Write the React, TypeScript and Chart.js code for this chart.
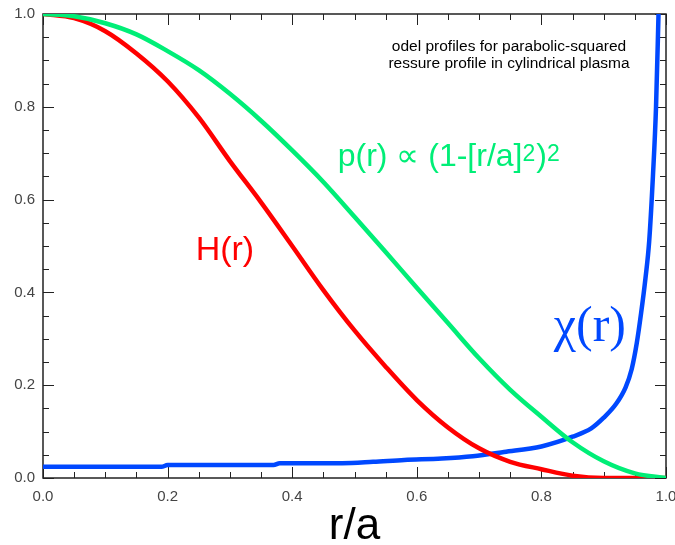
import { useEffect, useRef } from "react";
import { Chart, registerables } from "chart.js";

Chart.register(...registerables);

// ---- data ----
const radius = [0, 0.05, 0.1, 0.15, 0.2, 0.25, 0.3, 0.35, 0.4, 0.45, 0.5, 0.55, 0.6, 0.65, 0.7, 0.75, 0.8, 0.85, 0.9, 0.95, 1.0];
const pressure = [1.0, 0.995, 0.98, 0.956, 0.92, 0.879, 0.828, 0.77, 0.706, 0.638, 0.563, 0.487, 0.41, 0.334, 0.258, 0.19, 0.132, 0.077, 0.036, 0.01, 0.0];
const hProfile = [1.0, 0.991, 0.963, 0.915, 0.855, 0.777, 0.683, 0.594, 0.5, 0.405, 0.318, 0.24, 0.168, 0.109, 0.064, 0.035, 0.019, 0.005, 0.0, 0.0, 0.0];
const chiRadius = [0, 0.19, 0.2, 0.37, 0.38, 0.48, 0.53, 0.58, 0.64, 0.69, 0.74, 0.8, 0.85, 0.88, 0.9, 0.92, 0.935, 0.945, 0.953, 0.96, 0.967, 0.973, 0.979, 0.984, 0.988];
const chiProfile = [0.024, 0.024, 0.028, 0.028, 0.032, 0.032, 0.035, 0.039, 0.042, 0.047, 0.056, 0.068, 0.089, 0.107, 0.13, 0.16, 0.195, 0.235, 0.29, 0.355, 0.43, 0.51, 0.65, 0.8, 1.0];

const xTicks = [0, 0.2, 0.4, 0.6, 0.8, 1.0];
const yTicks = [0, 0.2, 0.4, 0.6, 0.8, 1.0];
const minorTicks = [0, 0.05, 0.1, 0.15, 0.2, 0.25, 0.3, 0.35, 0.4, 0.45, 0.5, 0.55, 0.6, 0.65, 0.7, 0.75, 0.8, 0.85, 0.9, 0.95, 1.0];

const xTitle = "r/a";
const noteLines = ["odel profiles for parabolic-squared", "ressure profile in cylindrical plasma"];
const pLabelParts = ["p(r) \u221D (1-[r/a]", "2", ")", "2"];
const hLabel = "H(r)";
const chiLabel = "\u03C7(r)";

const GREEN = "#00ee77";
const RED = "#ff0000";
const BLUE = "#0048ff";

const overlay = {
  id: "overlay",
  beforeDatasetsDraw(chart: any) {
    const { ctx, chartArea: a, scales } = chart;
    const x = scales.x;
    const y = scales.y;
    ctx.save();
    ctx.strokeStyle = "#222";
    ctx.lineWidth = 1;
    ctx.beginPath();
    minorTicks.forEach((v) => {
      const major = xTicks.some((t) => Math.abs(t - v) < 1e-6);
      const len = major ? 11 : 6;
      const px = Math.round(x.getPixelForValue(v)) + 0.5;
      ctx.moveTo(px, a.bottom);
      ctx.lineTo(px, a.bottom - len);
      ctx.moveTo(px, a.top);
      ctx.lineTo(px, a.top + len);
      const py = Math.round(y.getPixelForValue(v)) + 0.5;
      ctx.moveTo(a.left, py);
      ctx.lineTo(a.left + len, py);
      ctx.moveTo(a.right, py);
      ctx.lineTo(a.right - len, py);
    });
    ctx.stroke();
    ctx.lineWidth = 1.5;
    ctx.strokeRect(a.left, a.top, a.right - a.left, a.bottom - a.top);
    ctx.restore();
  },
  afterDraw(chart: any) {
    const { ctx, scales } = chart;
    const x = scales.x;
    const y = scales.y;
    ctx.save();
    ctx.textBaseline = "alphabetic";

    // notes
    ctx.fillStyle = "#000";
    ctx.font = "15.5px 'Liberation Sans', Arial, sans-serif";
    ctx.textAlign = "center";
    ctx.fillText(noteLines[0], x.getPixelForValue(0.748), y.getPixelForValue(0.92));
    ctx.fillText(noteLines[1], x.getPixelForValue(0.748), y.getPixelForValue(0.883));

    // p(r) label
    ctx.textAlign = "left";
    ctx.fillStyle = GREEN;
    let px = x.getPixelForValue(0.473);
    const pb = y.getPixelForValue(0.672);
    const big = "32px 'Liberation Sans', Arial, sans-serif";
    const small = "23px 'Liberation Sans', Arial, sans-serif";
    pLabelParts.forEach((s, i) => {
      const sup = i % 2 === 1;
      ctx.font = sup ? small : big;
      ctx.fillText(s, px, sup ? pb - 5 : pb);
      px += ctx.measureText(s).width + (sup ? 1 : 0);
    });

    // H(r)
    ctx.fillStyle = RED;
    ctx.font = "34px 'Liberation Sans', Arial, sans-serif";
    ctx.fillText(hLabel, x.getPixelForValue(0.245), y.getPixelForValue(0.47));

    // chi(r)
    ctx.fillStyle = BLUE;
    ctx.font = "50px 'Liberation Serif', 'Times New Roman', serif";
    ctx.fillText(chiLabel, x.getPixelForValue(0.82), y.getPixelForValue(0.296));

    ctx.restore();
  },
};

export default function App() {
  const ref = useRef<HTMLCanvasElement | null>(null);

  useEffect(() => {
    if (!ref.current) return;
    const toPts = (xs: number[], ys: number[]) => xs.map((v, i) => ({ x: v, y: ys[i] }));
    const tickFont = { family: "'Liberation Sans', Arial, sans-serif", size: 15 };
    const chart = new Chart(ref.current, {
      type: "line",
      data: {
        datasets: [
          {
            label: "p(r)",
            data: toPts(radius, pressure),
            borderColor: GREEN,
            borderWidth: 4.5,
            pointRadius: 0,
            cubicInterpolationMode: "monotone",
          },
          {
            label: "H(r)",
            data: toPts(radius, hProfile),
            borderColor: RED,
            borderWidth: 4.5,
            pointRadius: 0,
            cubicInterpolationMode: "monotone",
          },
          {
            label: "chi(r)",
            data: toPts(chiRadius, chiProfile),
            borderColor: BLUE,
            borderWidth: 4.5,
            pointRadius: 0,
            cubicInterpolationMode: "monotone",
          },
        ],
      },
      options: {
        responsive: false,
        animation: false,
        devicePixelRatio: 1,
        layout: { padding: { left: 0, right: 9, top: 14, bottom: 0 } },
        plugins: { legend: { display: false }, tooltip: { enabled: false } },
        scales: {
          x: {
            type: "linear",
            min: 0,
            max: 1,
            grid: { display: false, drawTicks: false },
            border: { display: false },
            afterBuildTicks: (s: any) => {
              s.ticks = xTicks.map((v) => ({ value: v }));
            },
            afterFit: (s: any) => {
              s.height = 67;
              s.paddingLeft = 0;
              s.paddingRight = 0;
            },
            ticks: {
              color: "#444",
              font: tickFont,
              padding: 10,
              maxRotation: 0,
              callback: (v: any) => Number(v).toFixed(1),
            },
            title: {
              display: true,
              text: xTitle,
              color: "#000",
              font: { family: "'Liberation Sans', Arial, sans-serif", size: 44, lineHeight: 0.9 },
              padding: { top: 0, bottom: -2 },
            },
          },
          y: {
            type: "linear",
            min: 0,
            max: 1,
            grid: { display: false, drawTicks: false },
            border: { display: false },
            afterBuildTicks: (s: any) => {
              s.ticks = yTicks.map((v) => ({ value: v }));
            },
            afterFit: (s: any) => {
              s.width = 43;
              s.paddingTop = 0;
              s.paddingBottom = 0;
            },
            ticks: {
              color: "#444",
              font: tickFont,
              padding: 8,
              callback: (v: any) => Number(v).toFixed(1),
            },
          },
        },
      },
      plugins: [overlay],
    } as any);
    return () => chart.destroy();
  }, []);

  return (
    <div style={{ position: "absolute", left: 0, top: 0, width: 675, height: 545, background: "#fff" }}>
      <canvas ref={ref} width={675} height={545} style={{ display: "block" }} />
    </div>
  );
}
